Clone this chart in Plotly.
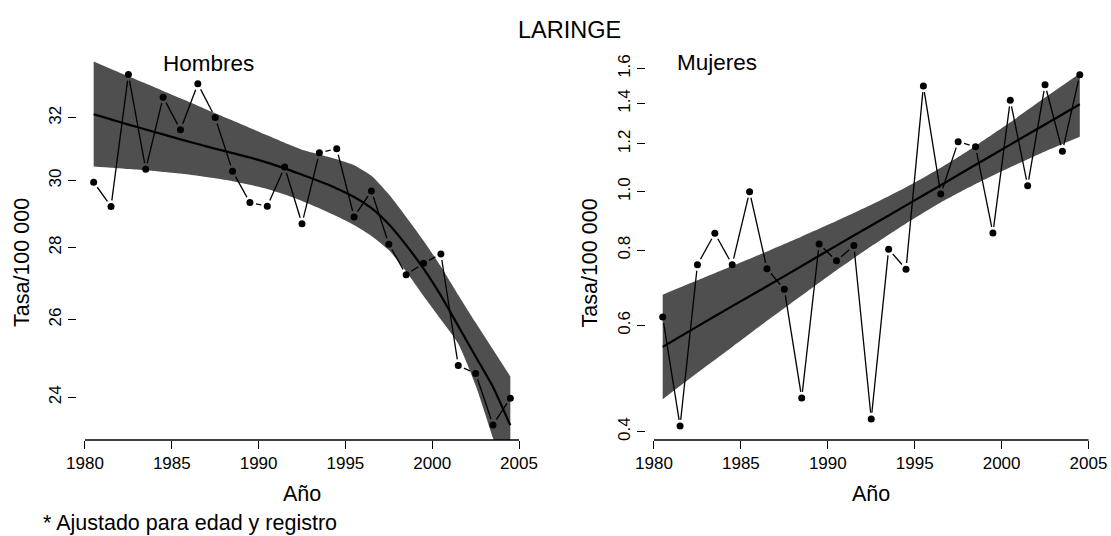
import math
import plotly.graph_objects as go

# ---------------------------------------------------------------- data
years = [1980.5, 1981.5, 1982.5, 1983.5, 1984.5, 1985.5, 1986.5, 1987.5,
         1988.5, 1989.5, 1990.5, 1991.5, 1992.5, 1993.5, 1994.5, 1995.5,
         1996.5, 1997.5, 1998.5, 1999.5, 2000.5, 2001.5, 2002.5, 2003.5,
         2004.5]

# Hombres: observed rate, fitted trend and confidence band
hombres_obs = [29.95, 29.21, 33.46, 30.35, 32.69, 31.61, 33.14, 32.01,
               30.29, 29.33, 29.22, 30.42, 28.70, 30.87, 31.00, 28.90,
               29.68, 28.10, 27.23, 27.55, 27.82, 24.80, 24.60, 23.33,
               23.98]
hombres_fit = [32.12, 31.95, 31.78, 31.62, 31.46, 31.30, 31.15, 31.00,
               30.86, 30.72, 30.56, 30.38, 30.18, 29.98, 29.76, 29.50,
               29.16, 28.68, 28.07, 27.40, 26.65, 25.83, 25.03, 24.26,
               23.32]
hombres_upper = [33.91, 33.65, 33.40, 33.15, 32.90, 32.65, 32.40, 32.15,
                 31.91, 31.67, 31.43, 31.19, 30.97, 30.82, 30.67, 30.48,
                 30.15, 29.58, 28.90, 28.20, 27.46, 26.67, 25.92, 25.21,
                 24.52]
hombres_lower = [30.44, 30.40, 30.36, 30.32, 30.27, 30.22, 30.15, 30.07,
                 29.98, 29.87, 29.74, 29.57, 29.38, 29.16, 28.92, 28.66,
                 28.34, 27.93, 27.32, 26.64, 26.00, 25.36, 24.30, 23.02,
                 21.90]

# Mujeres: observed rate, fitted trend and confidence band
mujeres_obs = [0.620, 0.409, 0.757, 0.853, 0.757, 1.000, 0.745, 0.689,
               0.455, 0.819, 0.768, 0.814, 0.420, 0.803, 0.744, 1.497,
               0.991, 1.210, 1.187, 0.854, 1.418, 1.023, 1.504, 1.167,
               1.563]
band_years_m = [1980.5, 1982.5, 1984.5, 1986.5, 1988.5, 1990.5, 1992.5,
                1994.5, 1996.5, 1998.5, 2000.5, 2002.5, 2004.5]
mujeres_fit = [0.553, 0.598, 0.646, 0.697, 0.753, 0.814, 0.879, 0.949,
               1.025, 1.108, 1.197, 1.292, 1.396]
mujeres_upper = [0.675, 0.713, 0.753, 0.796, 0.843, 0.894, 0.951, 1.017,
                 1.096, 1.191, 1.303, 1.432, 1.570]
mujeres_lower = [0.453, 0.501, 0.553, 0.611, 0.673, 0.741, 0.812, 0.886,
                 0.960, 1.030, 1.098, 1.166, 1.233]

x_ticks = [1980, 1985, 1990, 1995, 2000, 2005]
y_ticks_h = [24, 26, 28, 30, 32]
y_ticks_m = [0.4, 0.6, 0.8, 1.0, 1.2, 1.4, 1.6]
y_ticklabels_m = ["0.4", "0.6", "0.8", "1.0", "1.2", "1.4", "1.6"]

# ---------------------------------------------------------------- layout geometry (pixels)
W, H = 1111, 536
FONT = "Liberation Sans, Arial, sans-serif"
X_RANGE = [1979.54, 2005.46]
PLOT_TOP, PLOT_BOTTOM = 60.7, 440.0
LEFT_PX = (77.0, 527.0)
RIGHT_PX = (646.0, 1096.5)
Y_RANGE_H = [math.log10(22.97), math.log10(33.94)]
Y_RANGE_M = [math.log10(0.3876), math.log10(1.6487)]
band_color = "#4f4f4f"


def dom_x(px):
    return [px[0] / W, px[1] / W]


Y_DOMAIN = [1 - PLOT_BOTTOM / H, 1 - PLOT_TOP / H]


def gapped_segments(xs, ys, x_range, y_range, width_px, height_px, gap=6.2):
    """Connecting segments shortened near each point (like R's type='b')."""
    sx = width_px / (x_range[1] - x_range[0])
    sy = height_px / (y_range[1] - y_range[0])
    out_x, out_y = [], []
    for i in range(len(xs) - 1):
        ax, ay = xs[i] * sx, math.log10(ys[i]) * sy
        bx, by = xs[i + 1] * sx, math.log10(ys[i + 1]) * sy
        d = math.hypot(bx - ax, by - ay)
        if d <= 2 * gap:
            continue
        f = gap / d
        p0 = (ax + (bx - ax) * f, ay + (by - ay) * f)
        p1 = (bx - (bx - ax) * f, by - (by - ay) * f)
        out_x += [p0[0] / sx, p1[0] / sx, None]
        out_y += [10 ** (p0[1] / sy), 10 ** (p1[1] / sy), None]
    return out_x, out_y


fig = go.Figure()

panels = [
    dict(xa="x", ya="y", px=LEFT_PX, yr=Y_RANGE_H, bx=years, obs=hombres_obs,
         fit=hombres_fit, up=hombres_upper, lo=hombres_lower),
    dict(xa="x2", ya="y2", px=RIGHT_PX, yr=Y_RANGE_M, bx=band_years_m,
         obs=mujeres_obs, fit=mujeres_fit, up=mujeres_upper, lo=mujeres_lower),
]

smooth = dict(shape="spline", smoothing=0.6)

for p in panels:
    # confidence band: lower edge, then upper edge filled down to it
    fig.add_trace(go.Scatter(
        x=p["bx"], y=p["lo"], xaxis=p["xa"], yaxis=p["ya"], mode="lines",
        line=dict(width=0, color=band_color, **smooth), hoverinfo="skip",
        showlegend=False))
    fig.add_trace(go.Scatter(
        x=p["bx"], y=p["up"], xaxis=p["xa"], yaxis=p["ya"], mode="lines",
        fill="tonexty", fillcolor=band_color,
        line=dict(width=0, color=band_color, **smooth), hoverinfo="skip",
        showlegend=False))
    # fitted trend
    fig.add_trace(go.Scatter(
        x=p["bx"], y=p["fit"], xaxis=p["xa"], yaxis=p["ya"], mode="lines",
        line=dict(color="black", width=2.2, **smooth), showlegend=False))
    # observed values joined by gapped segments
    gx, gy = gapped_segments(years, p["obs"], X_RANGE, p["yr"],
                             p["px"][1] - p["px"][0], PLOT_BOTTOM - PLOT_TOP)
    fig.add_trace(go.Scatter(
        x=gx, y=gy, xaxis=p["xa"], yaxis=p["ya"], mode="lines",
        line=dict(color="black", width=1.3), connectgaps=False,
        hoverinfo="skip", showlegend=False))
    fig.add_trace(go.Scatter(
        x=years, y=p["obs"], xaxis=p["xa"], yaxis=p["ya"], mode="markers",
        marker=dict(color="black", size=7), showlegend=False))

axis_common = dict(showgrid=False, zeroline=False, showline=False,
                   ticks="outside", ticklen=8, tickwidth=1.3, tickcolor="black",
                   tickfont=dict(family=FONT, size=17, color="black"),
                   fixedrange=True)

fig.update_layout(
    width=W, height=H, margin=dict(l=0, r=0, t=0, b=0, autoexpand=False),
    paper_bgcolor="white", plot_bgcolor="white",
    font=dict(family=FONT, color="black"),
    xaxis=dict(domain=dom_x(LEFT_PX), range=X_RANGE, tickvals=x_ticks,
               anchor="y", **axis_common),
    yaxis=dict(domain=Y_DOMAIN, type="log", range=Y_RANGE_H,
               tickvals=y_ticks_h, ticktext=[str(v) for v in y_ticks_h],
               tickangle=-90, anchor="x", **axis_common),
    xaxis2=dict(domain=dom_x(RIGHT_PX), range=X_RANGE, tickvals=x_ticks,
                anchor="y2", **axis_common),
    yaxis2=dict(domain=Y_DOMAIN, type="log", range=Y_RANGE_M,
                tickvals=y_ticks_m, ticktext=y_ticklabels_m,
                tickangle=-90, anchor="x2", **axis_common),
)

# R-style axis lines spanning only the tick range
axis_line = dict(color="black", width=1.3)
for xa, ya, yt in (("x", "y", y_ticks_h), ("x2", "y2", y_ticks_m)):
    fig.add_shape(type="line", xref=xa, yref=ya + " domain",
                  x0=x_ticks[0], x1=x_ticks[-1], y0=0, y1=0, line=axis_line)
    fig.add_shape(type="line", xref=xa + " domain", yref=ya,
                  x0=0, x1=0, y0=math.log10(yt[0]), y1=math.log10(yt[-1]),
                  line=axis_line)


def text(s, px, py, size, angle=0, xanchor="center"):
    fig.add_annotation(text=s, x=px / W, y=1 - py / H, xref="paper",
                       yref="paper", showarrow=False, textangle=angle,
                       xanchor=xanchor, yanchor="middle",
                       font=dict(family=FONT, size=size, color="black"))


text("LARINGE", 569, 30, 23.5)
text("Hombres", 208, 63.5, 22.5)
text("Mujeres", 717, 63, 22.5)
text("Tasa/100 000", 22, 263, 21.5, angle=-90)
text("Tasa/100 000", 589.5, 263, 21.5, angle=-90)
text("Año", 302, 494, 21.5)
text("Año", 871, 494, 21.5)
text("* Ajustado para edad y registro", 41, 523, 21.5, xanchor="left")

fig.write_html("out.html")
